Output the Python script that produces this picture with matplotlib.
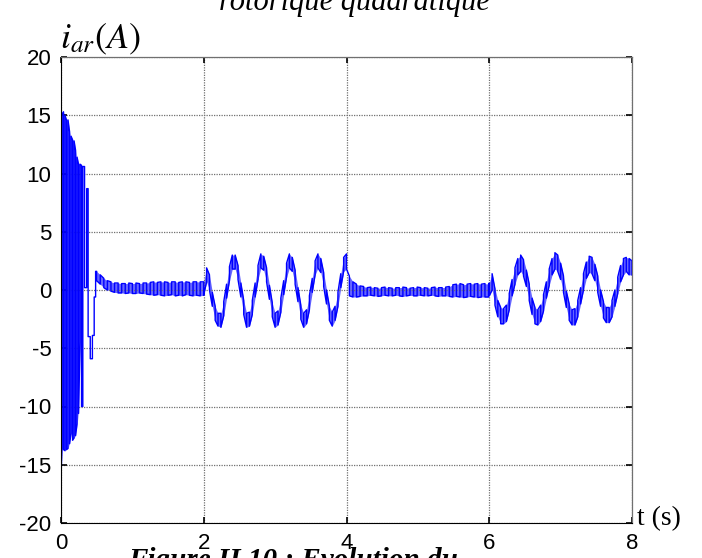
import numpy as np
import matplotlib
matplotlib.use("Agg")
import matplotlib.pyplot as plt

plt.rcParams['axes.unicode_minus'] = False
plt.rcParams['mathtext.fontset'] = 'stix'

# %% data: rotor current i_ar (A) vs t (s)
# start-up transient: vertical strokes (time, top, bottom)
tr_t = [0.000, 0.014, 0.035, 0.056, 0.077, 0.098, 0.120, 0.141, 0.162, 0.183, 0.204, 0.225, 0.246, 0.267, 0.288, 0.305]
tr_hi = [14.7, 15.1, 15.3, 15.0, 14.6, 14.6, 13.6, 13.2, 12.9, 12.8, 12.0, 11.4, 10.8, 10.8, 10.7, 10.6]
tr_lo = [-15.9, -13.6, -13.7, -13.8, -13.7, -13.6, -13.2, -12.3, -12.9, -12.7, -12.5, -11.5, -10.6, -4.5, -10.0, -10.0]

# end of transient (points of the trace)
tail_t = [0.33, 0.33, 0.36, 0.36, 0.38, 0.38, 0.41, 0.41, 0.44, 0.44, 0.465, 0.465, 0.485, 0.485]
tail_y = [10.6, 0.2, 0.2, 8.7, 8.7, -4.0, -4.0, -5.9, -5.9, -3.9, -3.9, -0.6, -0.6, 1.6]

# 0.5 - 2 s : steady, ripple band
a_hi = [1.6, 1.3, 1.0, 0.8, 0.7, 0.6, 0.6, 0.55, 0.55, 0.6, 0.55, 0.6, 0.55, 0.6, 0.6, 0.65,
        0.7, 0.65, 0.7, 0.7, 0.65, 0.7, 0.7, 0.65, 0.7, 0.7, 0.65, 0.7, 0.7, 0.7, 0.7]
a_lo = [0.8, 0.5, 0.2, 0.0, -0.1, -0.2, -0.25, -0.25, -0.3, -0.25, -0.3, -0.3, -0.25, -0.3, -0.35, -0.4,
        -0.45, -0.4, -0.45, -0.5, -0.45, -0.4, -0.5, -0.45, -0.5, -0.4, -0.45, -0.5, -0.45, -0.5, -0.45]

# 2 - 4 s : oscillation
b_hi = [0.7, 1.9, 1.3, -0.2, -1.4, -2.0, -2.0, -1.0, 0.5, 2.0, 3.0, 3.0, 2.1, 0.6, -0.9, -2.0, -1.9,
        -0.9, 0.6, 2.1, 3.1, 2.9, 1.9, 0.4, -1.1, -2.0, -1.8, -0.7, 0.8, 2.3, 3.1, 2.8, 1.7, 0.2,
        -1.3, -2.0, -1.7, -0.5, 1.0, 2.5, 3.1, 2.7, 1.5, 0.0, -1.4, -1.9, -1.4, -0.2, 1.4, 2.8, 3.1]
b_lo = [-0.4, 0.7, 0.0, -1.4, -2.6, -3.1, -3.2, -2.2, -0.7, 0.8, 1.8, 1.8, 0.9, -0.6, -2.1, -3.2, -3.1,
        -2.1, -0.6, 0.9, 1.9, 1.7, 0.7, -0.8, -2.3, -3.2, -3.0, -1.9, -0.4, 1.1, 1.9, 1.6, 0.5, -1.0,
        -2.5, -3.2, -2.9, -1.7, -0.2, 1.3, 1.9, 1.5, 0.3, -1.2, -2.6, -3.1, -2.6, -1.4, 0.2, 1.6, 1.8]

# 4 - 6 s : steady
c_hi = [1.2, 0.7, 0.5, 0.35, 0.3, 0.2, 0.25, 0.2, 0.15, 0.2, 0.25, 0.2, 0.15, 0.2, 0.2, 0.25, 0.2, 0.15,
        0.2, 0.25, 0.2, 0.2, 0.15, 0.2, 0.25, 0.2, 0.2, 0.25, 0.3, 0.45, 0.5, 0.55, 0.45, 0.5, 0.55,
        0.5, 0.55, 0.5, 0.55, 0.5]
c_lo = [-0.5, -0.6, -0.6, -0.55, -0.5, -0.5, -0.45, -0.5, -0.55, -0.5, -0.45, -0.5, -0.5, -0.45, -0.5,
        -0.55, -0.5, -0.45, -0.5, -0.5, -0.45, -0.5, -0.5, -0.45, -0.5, -0.55, -0.5, -0.5, -0.55, -0.6,
        -0.55, -0.6, -0.65, -0.6, -0.55, -0.6, -0.65, -0.6, -0.6, -0.6]

# 6 - 8 s : oscillation
d_hi = [0.6, 1.4, 0.1, -0.9, -1.5, -1.6, -1.3, -0.3, 0.9, 1.9, 2.7, 3.0, 2.6, 1.7, 0.5, -0.7, -1.5,
        -1.7, -1.3, -0.4, 0.7, 1.8, 2.7, 3.2, 3.0, 2.3, 1.2, -0.1, -1.2, -1.7, -1.6, -0.9, 0.2, 1.4,
        2.4, 2.9, 2.8, 2.2, 1.2, 0.0, -1.0, -1.5, -1.5, -0.9, 0.0, 1.1, 2.1, 2.7, 2.8, 2.7, 2.5]
d_lo = [-0.5, 0.0, -1.3, -2.3, -2.9, -2.9, -2.7, -1.7, -0.5, 0.5, 1.3, 1.6, 1.2, 0.3, -0.9, -2.1, -2.9,
        -3.0, -2.7, -1.8, -0.7, 0.4, 1.3, 1.8, 1.6, 0.9, -0.2, -1.5, -2.6, -3.0, -3.0, -2.3, -1.2, 0.0,
        1.0, 1.5, 1.4, 0.8, -0.2, -1.4, -2.4, -2.8, -2.8, -2.3, -1.4, -0.3, 0.7, 1.3, 1.6, 1.3, 1.3]

# sample times of each band segment
a_t = np.linspace(0.5, 2.0, len(a_hi))
b_t = np.linspace(2.0, 4.0, len(b_hi))
c_t = np.linspace(4.04, 5.99, len(c_hi))
d_t = np.linspace(6.0, 8.0, len(d_hi))


def zigzag(t, hi, lo):
    # vertical strokes between top and bottom, alternating direction
    xs, ys = [], []
    for i, (tt, h, l) in enumerate(zip(t, hi, lo)):
        xs += [tt, tt]
        ys += [h, l] if i % 2 == 0 else [l, h]
    return xs, ys


xs, ys = zigzag(tr_t, tr_hi, tr_lo)
xs += tail_t
ys += tail_y
for t, hi, lo in [(a_t, a_hi, a_lo), (b_t, b_hi, b_lo), (c_t, c_hi, c_lo), (d_t, d_hi, d_lo)]:
    x2, y2 = zigzag(t, hi, lo)
    xs += x2
    ys += y2

# %% figure
fig = plt.figure(figsize=(7.02, 5.58), dpi=100)
W, H = 702, 558
ax = fig.add_axes([61 / W, 1 - 523 / H, (632 - 61) / W, (523 - 57) / H])

blue = '#0000ff'
ax.fill_between(tr_t, tr_lo, tr_hi, color=blue, alpha=0.35, lw=0)
for t, hi, lo in [(a_t, a_hi, a_lo), (b_t, b_hi, b_lo), (c_t, c_hi, c_lo), (d_t, d_hi, d_lo)]:
    ax.fill_between(t, lo, hi, color=blue, alpha=0.6, lw=0)
ax.plot(xs, ys, color=blue, lw=1.0)

ax.set_xlim(0, 8)
ax.set_ylim(-20, 20)
ax.set_xticks([0, 2, 4, 6, 8])
ax.set_yticks([-20, -15, -10, -5, 0, 5, 10, 15, 20])
ax.grid(True, color='#707070', linestyle=(0, (1, 1)), linewidth=0.9)
ax.tick_params(direction='in', length=4, width=1.2, top=True, right=True,
               labelsize=16, pad=7)
for lab in ax.get_xticklabels() + ax.get_yticklabels():
    lab.set_family('Liberation Sans')
ax.spines['left'].set_color('black')
ax.spines['bottom'].set_color('black')
for s in ['top', 'right']:
    ax.spines[s].set_color('#707070')
    ax.spines[s].set_linestyle((0, (1, 1)))
    ax.spines[s].set_linewidth(0.9)

fig.text(60 / W, 1 - 48 / H, r'$i_{ar}(A)$', fontsize=26, va='baseline', ha='left')
fig.text(637 / W, 1 - 519 / H, 't (s)', fontsize=20, family='Liberation Serif', va='center', ha='left')
fig.text(354 / W, 1 - 10 / H, 'rotorique quadratique', fontsize=22, family='Liberation Serif',
         style='italic', va='baseline', ha='center')
fig.text(128 / W, 1 - 568 / H, 'Figure II.10 : Evolution du', fontsize=21, family='Liberation Serif',
         style='italic', weight='bold', va='baseline', ha='left', zorder=0)

fig.savefig('out.png', dpi=100)
